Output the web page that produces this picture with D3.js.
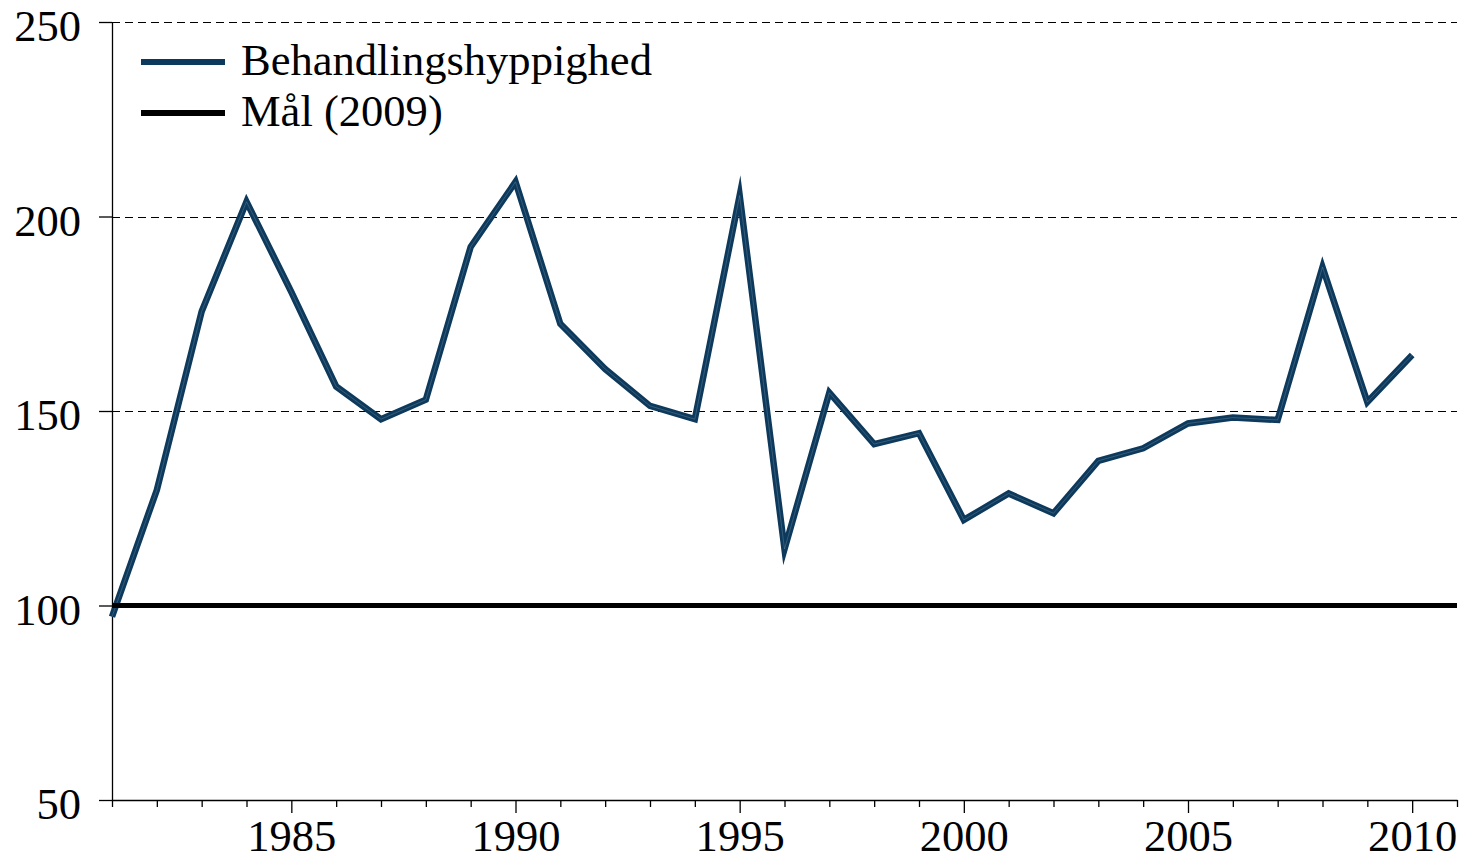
<!DOCTYPE html>
<html>
<head>
<meta charset="utf-8">
<script src="https://cdn.jsdelivr.net/npm/d3@7"></script>
<style>
  body { margin: 0; background: #fff; }
  svg { display: block; }
  .axis text, .legend text { font-family: "Liberation Serif", "Times New Roman", Times, serif; font-size: 44px; fill: #000; }
  .axis path, .axis line { stroke: #000; stroke-width: 1.3; }
  .grid line { stroke: #000; stroke-width: 1.2; stroke-dasharray: 8,5; }
</style>
</head>
<body>
<script>
// data
const years = d3.range(1981, 2011);
const behandling = [97.1, 129.7, 175.6, 203.8, 180.6, 156.3, 147.9, 152.9, 192.2, 208.9,
                    172.4, 160.8, 151.3, 147.9, 205.4, 114.5, 154.7, 141.5, 144.3, 122.0,
                    128.8, 123.7, 137.2, 140.4, 146.8, 148.3, 147.7, 187.0, 152.3, 164.4];
const maal = 100;
const yTicks = [50, 100, 150, 200, 250];
const seriesNames = ["Behandlingshyppighed", "Mål (2009)"];
const colors = ["#0d3a5c", "#000000"];

const width = 1464, height = 863;
const x = d3.scaleLinear().domain([1981, 2011]).range([112, 1457]);
const y = d3.scaleLinear().domain([50, 250]).range([800, 22]);

const svg = d3.select("body").append("svg")
  .attr("width", width)
  .attr("height", height);

// dashed gridlines
svg.append("g").attr("class", "grid")
  .selectAll("line")
  .data(yTicks.filter(d => d !== 100))
  .enter().append("line")
  .attr("x1", x(1981)).attr("x2", x(2011))
  .attr("y1", d => Math.round(y(d)) + 0.5)
  .attr("y2", d => Math.round(y(d)) + 0.5);

// y axis
const yAxis = svg.append("g").attr("class", "axis")
  .attr("transform", `translate(${x(1981)},0)`)
  .call(d3.axisLeft(y).tickValues(yTicks).tickSize(13).tickSizeOuter(0).tickPadding(18).tickFormat(d3.format("d")));
yAxis.selectAll("text").attr("dy", "0.42em");

// x axis
const xAxis = svg.append("g").attr("class", "axis")
  .attr("transform", `translate(0,${y(50)})`)
  .call(d3.axisBottom(x).tickValues(d3.range(1981, 2012)).tickSize(13).tickSizeOuter(0).tickPadding(6)
    .tickFormat(d => d % 5 === 0 ? d : ""));
xAxis.selectAll(".tick line").attr("y2", d => d % 5 === 0 ? 13 : 7);

// series line
const line = d3.line()
  .x((d, i) => x(years[i]))
  .y(d => y(d));

svg.append("path")
  .datum(behandling)
  .attr("fill", "none")
  .attr("stroke", colors[0])
  .attr("stroke-width", 6.5)
  .attr("stroke-linejoin", "miter")
  .attr("stroke-miterlimit", 10)
  .attr("d", line);

svg.append("path")
  .datum(behandling)
  .attr("fill", "none")
  .attr("stroke", "#9fb3c6")
  .attr("stroke-opacity", 0.35)
  .attr("stroke-width", 0.8)
  .attr("d", line);

// target line
svg.append("line")
  .attr("x1", x(1981)).attr("x2", x(2011))
  .attr("y1", y(maal)).attr("y2", y(maal))
  .attr("stroke", colors[1])
  .attr("stroke-width", 5);

// legend
const legend = svg.append("g").attr("class", "legend");
seriesNames.forEach((name, i) => {
  const ly = 62 + i * 51;
  legend.append("line")
    .attr("x1", 141).attr("x2", 225)
    .attr("y1", ly).attr("y2", ly)
    .attr("stroke", colors[i])
    .attr("stroke-width", 6);
  legend.append("text")
    .attr("x", 241).attr("y", ly + 13)
    .text(name);
});

// keep text widths close to the reference
const probe = legend.select("text").node().getComputedTextLength();
const fs = Math.max(36, Math.min(48, 44 * 411 / probe));
svg.selectAll("text").style("font-size", fs + "px");
</script>
</body>
</html>
